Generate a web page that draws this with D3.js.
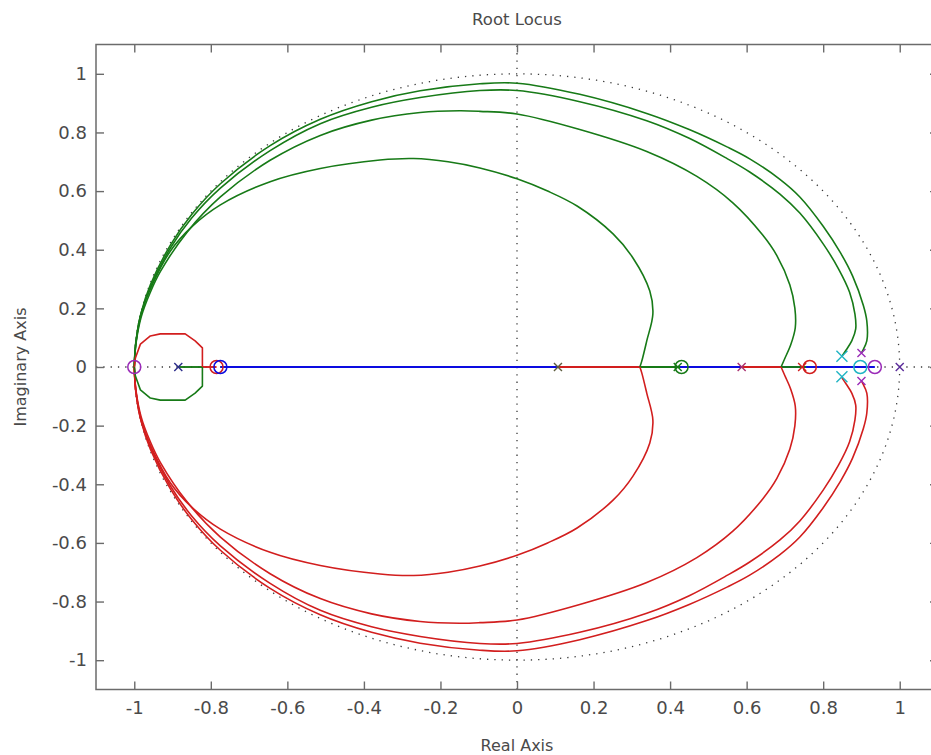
<!DOCTYPE html>
<html>
<head>
<meta charset="utf-8">
<script src="https://cdn.jsdelivr.net/npm/d3@7"></script>
<style>
  html, body { margin: 0; padding: 0; background: #ffffff; }
  svg { display: block; }
  text { font-family: "DejaVu Sans", "Liberation Sans", Arial, sans-serif; fill: #4a4a4a; }
</style>
</head>
<body>
<script>
// ---- Root locus data (real, imaginary) ----
// Upper-half complex branches; the lower half is their conjugate.
const branchInner = [[-1,0],[-0.996,0.08],[-0.984,0.175],[-0.955,0.275],[-0.906,0.395],[-0.85,0.478],[-0.775,0.553],[-0.645,0.632],[-0.514,0.677],[-0.358,0.706],[-0.27,0.711],[-0.18,0.70],[-0.097,0.679],[0,0.642],[0.08,0.60],[0.157,0.549],[0.251,0.454],[0.303,0.372],[0.347,0.259],[0.355,0.181],[0.339,0.089],[0.326,0.02],[0.321,0]];
const branchSecond = [[-1,0],[-0.996,0.075],[-0.982,0.17],[-0.958,0.255],[-0.932,0.325],[-0.862,0.46],[-0.775,0.58],[-0.645,0.705],[-0.514,0.79],[-0.38,0.842],[-0.253,0.868],[-0.15,0.874],[-0.097,0.872],[0,0.863],[0.164,0.81],[0.339,0.735],[0.47,0.65],[0.564,0.56],[0.642,0.45],[0.679,0.38],[0.713,0.28],[0.726,0.201],[0.727,0.133],[0.715,0.075],[0.70,0.03],[0.69,0]];
const branchThird = [[-1,0],[-0.996,0.08],[-0.982,0.18],[-0.958,0.272],[-0.906,0.405],[-0.85,0.508],[-0.775,0.61],[-0.645,0.738],[-0.514,0.83],[-0.38,0.886],[-0.253,0.919],[-0.097,0.943],[0,0.943],[0.164,0.905],[0.339,0.84],[0.45,0.78],[0.55,0.71],[0.608,0.665],[0.687,0.59],[0.739,0.525],[0.80,0.42],[0.84,0.335],[0.869,0.255],[0.883,0.18],[0.885,0.13],[0.875,0.09],[0.86,0.058],[0.849,0.037]];
const branchOuter = [[-1,0],[-0.996,0.085],[-0.982,0.185],[-0.958,0.28],[-0.906,0.415],[-0.85,0.52],[-0.775,0.625],[-0.645,0.755],[-0.514,0.845],[-0.38,0.905],[-0.253,0.942],[-0.097,0.966],[0,0.968],[0.164,0.93],[0.339,0.865],[0.45,0.81],[0.55,0.75],[0.608,0.71],[0.687,0.64],[0.739,0.58],[0.80,0.48],[0.845,0.39],[0.877,0.31],[0.905,0.21],[0.914,0.157],[0.914,0.089],[0.903,0.055],[0.9,0.048]];
const branchLoop = [[-1,0],[-0.997,0.031],[-0.984,0.078],[-0.958,0.106],[-0.932,0.113],[-0.867,0.113],[-0.841,0.089],[-0.822,0.065],[-0.822,0]];

// Real-axis segments: [from, to]
const blueAxisSegment = [[-0.775, 0.935]];
const greenAxisSegments = [[-0.885, -0.822], [0.321, 0.426], [0.69, 0.755]];
const redAxisSegments = [[-0.822, -0.785], [0.107, 0.321], [0.587, 0.69]];

// Open-loop poles (x) and zeros (o): [re, im, colour key]
const poles = [[-0.885,0,"navy"],[0.107,0,"olive"],[0.42,0,"green"],[0.587,0,"plum"],[0.745,0,"red"],[0.849,0.037,"cyan"],[0.849,-0.033,"cyan"],[0.9,0.048,"magenta"],[0.9,-0.048,"magenta"],[1.0,0,"violet"]];
const zeros = [[-1,0,"magenta"],[-0.785,0,"red"],[-0.775,0,"blue"],[0.43,0,"green"],[0.765,0,"red"],[0.897,0,"cyan"],[0.935,0,"magenta"]];

const xTicks = [-1,-0.8,-0.6,-0.4,-0.2,0,0.2,0.4,0.6,0.8,1];
const xTickLabels = ["-1","-0.8","-0.6","-0.4","-0.2","0","0.2","0.4","0.6","0.8","1"];
const yTicks = [-1,-0.8,-0.6,-0.4,-0.2,0,0.2,0.4,0.6,0.8,1];
const yTickLabels = ["-1","-0.8","-0.6","-0.4","-0.2","0","0.2","0.4","0.6","0.8","1"];

const colors = {
  green: "#177a17", red: "#d21e1e", blue: "#0c0ce0", cyan: "#20b4c4",
  magenta: "#9a2ab8", navy: "#2a2a8a", olive: "#5e5e40", plum: "#a83070", violet: "#5a2a9a"
};

// ---- Layout ----
const W = 931, H = 755;
const plotLeft = 96, plotRight = 938, plotTop = 44.5, plotBottom = 689.5;

const svg = d3.select("body").append("svg").attr("width", W).attr("height", H);

const x = d3.scaleLinear().domain([-1.1, 1.1]).range([plotLeft, plotRight]);
const y = d3.scaleLinear().domain([-1.1, 1.1]).range([plotBottom, plotTop]);

svg.append("clipPath").attr("id", "plot-clip")
  .append("rect").attr("x", plotLeft).attr("y", plotTop)
  .attr("width", plotRight - plotLeft).attr("height", plotBottom - plotTop);

const plot = svg.append("g").attr("clip-path", "url(#plot-clip)");

// Dotted reference lines: real axis, imaginary axis, unit circle
const dotted = { stroke: "#3a3a3a", width: 1.3, dash: "1.3,6" };
plot.append("line")
  .attr("x1", x(-1.1)).attr("x2", x(1.1)).attr("y1", y(0)).attr("y2", y(0))
  .attr("stroke", dotted.stroke).attr("stroke-width", dotted.width).attr("stroke-dasharray", dotted.dash);
plot.append("line")
  .attr("x1", x(0)).attr("x2", x(0)).attr("y1", y(-1.1)).attr("y2", y(1.1))
  .attr("stroke", dotted.stroke).attr("stroke-width", dotted.width).attr("stroke-dasharray", dotted.dash);
const unitCircle = d3.range(0, 361, 2).map(a => [Math.cos(a * Math.PI / 180), Math.sin(a * Math.PI / 180)]);
const line = d3.line().x(d => x(d[0])).y(d => y(d[1]));
const smooth = d3.line().x(d => x(d[0])).y(d => y(d[1])).curve(d3.curveCatmullRom.alpha(0.5));
plot.append("path").attr("d", line(unitCircle)).attr("fill", "none")
  .attr("stroke", dotted.stroke).attr("stroke-width", dotted.width).attr("stroke-dasharray", dotted.dash);

// Real-axis locus segments
function axisSeg(segs, color, w) {
  segs.forEach(s => {
    plot.append("line")
      .attr("x1", x(s[0])).attr("x2", x(s[1])).attr("y1", y(0)).attr("y2", y(0))
      .attr("stroke", color).attr("stroke-width", w);
  });
}
axisSeg(blueAxisSegment, colors.blue, 1.9);
axisSeg(redAxisSegments, colors.red, 1.9);
axisSeg(greenAxisSegments, colors.green, 1.9);

// Complex branches: upper half green, lower half red
const conj = pts => pts.map(p => [p[0], -p[1]]);
function branch(pts, color, gen) {
  plot.append("path").attr("d", gen(pts)).attr("fill", "none")
    .attr("stroke", color).attr("stroke-width", 1.6).attr("stroke-linejoin", "round");
}
[branchInner, branchSecond, branchThird, branchOuter].forEach(b => {
  branch(b, colors.green, smooth);
  branch(conj(b), colors.red, smooth);
});
// Small loop near -1: upper half red, lower half green
branch(branchLoop, colors.red, line);
branch(conj(branchLoop), colors.green, line);

// Zeros
plot.selectAll("circle.zero").data(zeros).join("circle").attr("class", "zero")
  .attr("cx", d => x(d[0])).attr("cy", d => y(d[1])).attr("r", 6.5)
  .attr("fill", "none").attr("stroke", d => colors[d[2]]).attr("stroke-width", 1.5);

// Poles
const xMark = (cx, cy, s) => `M${cx - s},${cy - s}L${cx + s},${cy + s}M${cx - s},${cy + s}L${cx + s},${cy - s}`;
plot.selectAll("path.pole").data(poles).join("path").attr("class", "pole")
  .attr("d", d => xMark(x(d[0]), y(d[1]), d[2] === "cyan" ? 5.5 : 4))
  .attr("fill", "none").attr("stroke", d => colors[d[2]]).attr("stroke-width", 1.4);

// ---- Axes box with inward ticks ----
const axisColor = "#6b6b6b";
const fmtX = d => xTickLabels[xTicks.indexOf(d)];
const fmtY = d => yTickLabels[yTicks.indexOf(d)];

function styleAxis(g) {
  g.select(".domain").remove();
  g.selectAll(".tick line").attr("stroke", axisColor).attr("stroke-width", 1.4);
  g.selectAll(".tick text").attr("fill", "#4a4a4a")
    .style("font-family", '"DejaVu Sans", sans-serif').style("font-size", "18px");
}

svg.append("g").attr("transform", `translate(0,${plotBottom})`)
  .call(d3.axisBottom(x).tickValues(xTicks).tickFormat(fmtX).tickSizeInner(-8).tickSizeOuter(0).tickPadding(12))
  .call(styleAxis);
svg.append("g").attr("transform", `translate(0,${plotTop})`)
  .call(d3.axisTop(x).tickValues(xTicks).tickFormat("").tickSizeInner(-8).tickSizeOuter(0))
  .call(styleAxis);
svg.append("g").attr("transform", `translate(${plotLeft},0)`)
  .call(d3.axisLeft(y).tickValues(yTicks).tickFormat(fmtY).tickSizeInner(-8).tickSizeOuter(0).tickPadding(9))
  .call(styleAxis);
svg.append("g").attr("transform", `translate(${plotRight},0)`)
  .call(d3.axisRight(y).tickValues(yTicks).tickFormat("").tickSizeInner(-8).tickSizeOuter(0))
  .call(styleAxis);

svg.append("rect").attr("x", plotLeft).attr("y", plotTop)
  .attr("width", plotRight - plotLeft).attr("height", plotBottom - plotTop)
  .attr("fill", "none").attr("stroke", axisColor).attr("stroke-width", 1.5);

// ---- Titles ----
const midX = (plotLeft + plotRight) / 2;
svg.append("text").attr("x", midX).attr("y", 25).attr("text-anchor", "middle")
  .style("font-size", "16.5px").text("Root Locus");
svg.append("text").attr("x", midX).attr("y", 751).attr("text-anchor", "middle")
  .style("font-size", "16px").text("Real Axis");
svg.append("text").attr("transform", `translate(26,${(plotTop + plotBottom) / 2}) rotate(-90)`)
  .attr("text-anchor", "middle").style("font-size", "16px").text("Imaginary Axis");
</script>
</body>
</html>
